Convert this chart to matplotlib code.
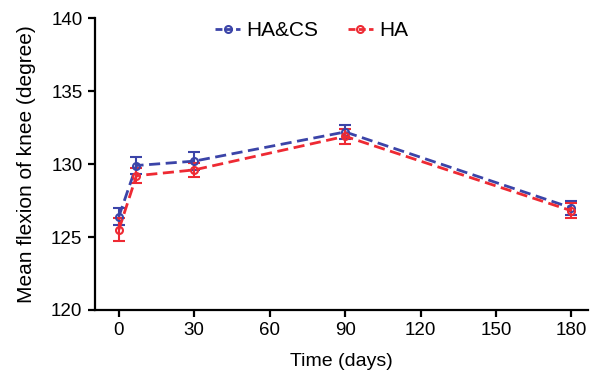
import matplotlib
matplotlib.use("Agg")
import matplotlib.pyplot as plt
from matplotlib.lines import Line2D

plt.rcParams['font.family'] = ['Liberation Sans', 'DejaVu Sans']

days = [0, 7, 30, 90, 180]
hacs = [126.4, 129.9, 130.2, 132.2, 127.0]
hacs_err = [0.6, 0.6, 0.6, 0.5, 0.5]
ha = [125.5, 129.2, 129.6, 131.9, 126.8]
ha_err = [0.8, 0.5, 0.5, 0.5, 0.5]

xticks = [0, 30, 60, 90, 120, 150, 180]
yticks = [120, 125, 130, 135, 140]

blue = '#3b44a8'
red = '#ee2a33'

fig = plt.figure(figsize=(6.01, 3.78), dpi=100)
ax = fig.add_axes([0.158, 0.18, 0.82, 0.772])

ax.errorbar(days, hacs, yerr=hacs_err, color=blue, ls='--', lw=2, marker='o',
            ms=5, mfc='none', mew=1.5, capsize=4, elinewidth=1.5, capthick=1.5,
            dashes=(4, 2))
ax.errorbar(days, ha, yerr=ha_err, color=red, ls='--', lw=2, marker='o',
            ms=5, mfc='none', mew=1.5, capsize=4, elinewidth=1.5, capthick=1.5,
            dashes=(4, 2))

ax.set_xlim(-9.5, 186.5)
ax.set_ylim(120, 140)
ax.set_xticks(xticks)
ax.set_yticks(yticks)
for s in ['top', 'right']:
    ax.spines[s].set_visible(False)
for s in ['left', 'bottom']:
    ax.spines[s].set_linewidth(1.6)
ax.tick_params(width=1.6, length=5, labelsize=13.5, direction='out', pad=4)
ax.set_xlabel('Time (days)', fontsize=14, labelpad=10)
ax.set_ylabel('Mean flexion of knee (degree)', fontsize=15, labelpad=11)

handles = [
    Line2D([], [], color=blue, ls='--', lw=2, dashes=(2.5, 1.2), marker='o', ms=5, mfc='none', mew=1.5),
    Line2D([], [], color=red, ls='--', lw=2, dashes=(2.5, 1.2), marker='o', ms=5, mfc='none', mew=1.5),
]
ax.legend(handles, ['HA&CS', 'HA'], loc='upper center', ncol=2, frameon=False, fontsize=15,
          bbox_to_anchor=(0.44, 1.055), handlelength=1.2, handletextpad=0.3, columnspacing=1.4)

fig.savefig('out.png', dpi=100)
